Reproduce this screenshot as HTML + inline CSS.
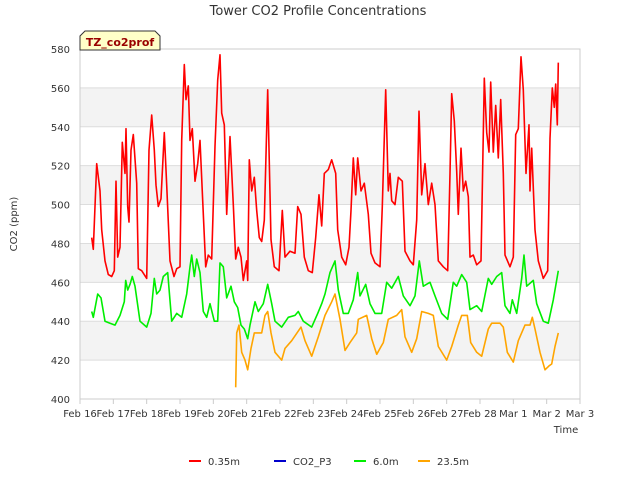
<!DOCTYPE html>
<html><head><meta charset="utf-8"><style>
body{margin:0;background:#fff;}
svg{font-family:"DejaVu Sans","Liberation Sans",sans-serif;}
</style></head><body>
<svg id="chart" width="640" height="480" viewBox="0 0 640 480">
<text x="318" y="15" text-anchor="middle" font-size="13" fill="#333">Tower CO2 Profile Concentrations</text>
<g id="grid"></g>
<rect x="80" y="49" width="500" height="350" fill="none" stroke="#ccc"/>
<g id="series"></g>
<g id="axes"></g>
<text transform="translate(17,224) rotate(-90)" text-anchor="middle" font-size="10" fill="#333">CO2 (ppm)</text>
<text x="566" y="433" text-anchor="middle" font-size="10" fill="#333">Time</text>
<g>
<path d="M80,50 L80,36 L85,31 L155,31 L160,36 L160,50 Z" fill="#ffffc8" stroke="#333"/>
<text x="120" y="46" text-anchor="middle" font-size="11" font-weight="bold" fill="#900">TZ_co2prof</text>
</g>
<g id="legend"></g>
</svg>
<script>
const yTicks=[400,420,440,460,480,500,520,540,560,580];
const xTickLabels=["Feb 16","Feb 17","Feb 18","Feb 19","Feb 20","Feb 21","Feb 22","Feb 23","Feb 24","Feb 25","Feb 26","Feb 27","Feb 28","Mar 1","Mar 2","Mar 3"];
const seriesNames=["0.35m","CO2_P3","6.0m","23.5m"];
const seriesColors=["#ff0000","#0000cc","#00ee00","#ffa500"];
const redDays=[0.35,0.40,0.50,0.60,0.65,0.75,0.85,0.95,1.03,1.08,1.13,1.2,1.27,1.35,1.38,1.43,1.47,1.53,1.6,1.7,1.75,1.85,2.0,2.07,2.15,2.23,2.28,2.35,2.43,2.53,2.6,2.7,2.82,2.9,3.0,3.05,3.13,3.18,3.25,3.3,3.37,3.45,3.53,3.6,3.68,3.77,3.85,3.95,4.05,4.13,4.2,4.25,4.33,4.4,4.5,4.6,4.67,4.75,4.83,4.9,5.0,5.03,5.08,5.15,5.23,5.3,5.38,5.45,5.53,5.63,5.73,5.83,5.97,6.07,6.15,6.3,6.45,6.53,6.63,6.73,6.85,6.97,7.07,7.17,7.25,7.33,7.45,7.55,7.67,7.73,7.85,7.97,8.07,8.13,8.2,8.27,8.33,8.43,8.53,8.65,8.73,8.85,9.0,9.07,9.17,9.25,9.3,9.35,9.45,9.55,9.67,9.75,9.9,10.0,10.1,10.17,10.25,10.35,10.45,10.55,10.65,10.75,10.9,11.03,11.1,11.15,11.23,11.3,11.35,11.43,11.5,11.57,11.65,11.7,11.8,11.9,12.03,12.13,12.2,12.27,12.32,12.4,12.47,12.55,12.62,12.7,12.75,12.9,13.0,13.07,13.15,13.23,13.3,13.38,13.47,13.5,13.55,13.65,13.75,13.9,14.03,14.1,14.17,14.23,14.27,14.32,14.35];
const redVals=[483,477,521,507,487,471,464,463,466,512,473,478,532,516,539,499,491,528,536,511,467,466,462,528,546,528,510,499,503,537,510,471,463,467,468,533,572,554,561,533,539,512,521,533,502,468,474,472,530,564,577,547,541,495,535,500,472,478,473,461,471,461,523,507,514,497,483,481,492,559,482,468,466,497,473,476,475,499,495,473,466,465,483,505,489,516,518,523,516,487,473,469,478,497,524,505,524,507,511,495,475,470,468,499,559,507,516,502,500,514,512,476,471,469,492,548,505,521,500,511,500,471,468,466,516,557,543,517,495,529,507,512,504,473,474,469,471,565,537,527,563,527,551,524,554,516,474,468,473,536,539,576,559,516,541,507,529,487,471,462,466,534,560,550,562,541,573];
const p3Days=[];
const p3Vals=[];
const greenDays=[0.35,0.4,0.53,0.63,0.75,0.9,1.05,1.2,1.33,1.37,1.43,1.5,1.57,1.65,1.8,2.0,2.13,2.23,2.3,2.4,2.5,2.63,2.75,2.9,3.05,3.2,3.3,3.35,3.43,3.5,3.6,3.7,3.8,3.9,4.03,4.13,4.2,4.3,4.4,4.53,4.63,4.73,4.83,4.93,5.03,5.1,5.25,5.35,5.5,5.63,5.75,5.85,6.05,6.25,6.45,6.55,6.7,6.95,7.13,7.25,7.35,7.5,7.65,7.75,7.9,8.05,8.2,8.33,8.4,8.57,8.7,8.85,9.05,9.2,9.35,9.55,9.7,9.9,10.05,10.18,10.3,10.5,10.65,10.85,11.03,11.2,11.3,11.45,11.6,11.7,11.9,12.05,12.25,12.35,12.5,12.65,12.75,12.9,12.97,13.1,13.25,13.32,13.4,13.6,13.7,13.9,14.05,14.2,14.35];
const greenVals=[445,442,454,452,440,439,438,443,450,461,456,459,463,458,440,437,444,462,454,456,463,465,440,444,442,454,468,474,463,472,465,445,442,449,440,440,470,468,452,458,450,447,438,436,431,438,450,445,449,459,449,440,437,442,443,445,440,437,444,449,454,465,471,456,444,444,451,465,453,459,449,444,444,460,457,463,453,448,453,471,458,460,453,444,441,460,458,464,460,446,448,445,462,459,463,465,448,444,451,444,462,474,458,461,449,440,439,451,466];
const orangeDays=[4.67,4.7,4.77,4.85,4.95,5.03,5.13,5.23,5.33,5.45,5.55,5.63,5.73,5.85,6.05,6.15,6.35,6.63,6.75,6.95,7.15,7.35,7.55,7.65,7.8,7.95,8.1,8.3,8.35,8.6,8.75,8.9,9.1,9.25,9.5,9.65,9.75,9.95,10.1,10.25,10.45,10.6,10.75,11.0,11.15,11.35,11.45,11.62,11.72,11.9,12.05,12.25,12.35,12.6,12.7,12.82,13.0,13.15,13.35,13.5,13.57,13.65,13.8,13.95,14.07,14.15,14.25,14.35];
const orangeVals=[406,434,438,424,420,415,426,434,434,434,443,445,434,424,420,426,430,437,430,422,432,443,450,454,441,425,429,434,441,443,431,423,429,441,443,446,432,424,431,445,444,443,427,420,427,438,443,443,429,424,422,436,439,439,437,424,419,430,438,438,442,436,424,415,417,418,427,434];

const NS="http://www.w3.org/2000/svg";
const X0=80,X1=580,Y0=399,Y1=49;
const xScale=d=>X0+d*(X1-X0)/15;
const yScale=v=>Y0-(v-400)*(Y0-Y1)/180;
function mk(tag,attrs,parent){const e=document.createElementNS(NS,tag);for(const k in attrs)e.setAttribute(k,attrs[k]);parent.appendChild(e);return e;}
const grid=document.getElementById('grid'),axes=document.getElementById('axes'),series=document.getElementById('series'),legend=document.getElementById('legend');
for(let i=0;i<yTicks.length-1;i++){
  if(i%2===1){const b=mk('rect',{x:X0,y:yScale(yTicks[i+1]),width:X1-X0,height:yScale(yTicks[i])-yScale(yTicks[i+1]),fill:'#f3f3f3'},grid);
  
  }
}
yTicks.forEach(v=>{
  const l=mk('line',{x1:X0,x2:X1,y1:yScale(v),y2:yScale(v),stroke:'#dddddd'},grid);
  
  
  const t=mk('text',{x:X0-10,y:yScale(v)+4,'text-anchor':'end','font-size':10,fill:'#333'},axes);
  
  
  t.textContent=v;
});
xTickLabels.forEach((s,i)=>{
  const tk=mk('line',{x1:xScale(i),x2:xScale(i),y1:Y0,y2:Y0+5,stroke:'#ccc'},axes);
  
  
  const t=mk('text',{x:xScale(i),y:Y0+18,'text-anchor':'middle','font-size':10,fill:'#333'},axes);
  
  
  t.textContent=s;
});
function line(days,vals,color,name){
  if(!days.length)return;
  const p=mk('polyline',{points:days.map((d,i)=>xScale(d).toFixed(1)+','+yScale(vals[i]).toFixed(1)).join(' '),fill:'none',stroke:color,'stroke-width':1.6,'stroke-linejoin':'round'},series);
  
  
}
line(orangeDays,orangeVals,seriesColors[3],'series-23-5m');
line(greenDays,greenVals,seriesColors[2],'series-6-0m');
line(p3Days,p3Vals,seriesColors[1],'series-co2-p3');
line(redDays,redVals,seriesColors[0],'series-0-35m');
const legX=[189,274,354,418];
seriesNames.forEach((n,i)=>{
  const g=mk('g',{},legend);
  
  
  mk('line',{x1:legX[i],x2:legX[i]+12,y1:461,y2:461,stroke:seriesColors[i],'stroke-width':2},g);
  const t=mk('text',{x:legX[i]+19,y:465,'font-size':10,fill:'#333'},g);
  t.textContent=n;
});
</script>
</body></html>
